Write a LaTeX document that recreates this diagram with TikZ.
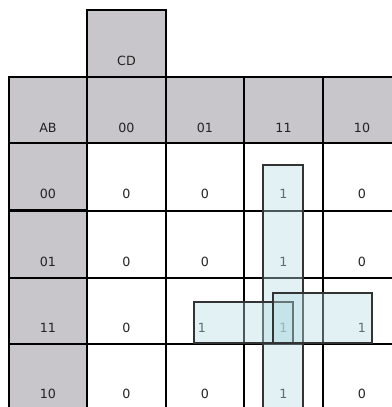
\documentclass[tikz,border=0pt]{standalone}
\usepackage{fontspec}
\setmainfont{DejaVu Sans}
\definecolor{hdr}{RGB}{200,198,202}
\definecolor{grp}{RGB}{180,220,228}
\definecolor{txt}{RGB}{35,35,35}
\tikzset{
  hdrcell/.style={fill=hdr,draw=black,line width=0.8pt},
  cellline/.style={draw=black,line width=1.5pt},
  lbl/.style={font=\fontsize{9.5}{11}\selectfont,text=txt,inner sep=0pt,anchor=center},
  grpbox/.style={fill=grp,fill opacity=0.4,draw=black!80,line width=0.8pt}
}
\begin{document}
\begin{tikzpicture}[x=0.75pt,y=-0.75pt]
\useasboundingbox (0,0) rectangle (392,407);
\clip (0,0) rectangle (392,407);
% header cells
\draw[hdrcell] (87,10) rectangle (166,77);
\draw[hdrcell] (9,77) rectangle (87,143);
\foreach \x in {87,166,244,323} {
  \draw[hdrcell] (\x,77) rectangle ({\x+78.5},143);
}
\foreach \y in {143,211,278,344} {
  \draw[hdrcell] (9,\y) rectangle (87,{\y+67});
}
% white cell lines
\foreach \x in {87,166,244,323} {
  \draw[cellline] (\x,143) -- (\x,415);
}
\foreach \y in {143,211,278,344} {
  \draw[cellline] (9,\y) -- (400,\y);
}
% labels
\node[lbl] (cd) at (126.5,61) {CD};
\node[lbl] (ab) at (48,128) {AB};
\node[lbl] (c00) at (126.5,128) {00};
\node[lbl] (c01) at (205,128) {01};
\node[lbl] (c11) at (283.5,128) {11};
\node[lbl] (c10) at (362,128) {10};
\node[lbl] (r00) at (48,194) {00};
\node[lbl] (r01) at (48,262) {01};
\node[lbl] (r11) at (48,328) {11};
\node[lbl] (r10) at (48,394) {10};
% values
\node[lbl] (v00a) at (126.5,194) {0};
\node[lbl] (v00b) at (205,194) {0};
\node[lbl] (v00c) at (283.5,194) {1};
\node[lbl] (v00d) at (362,194) {0};
\node[lbl] (v01a) at (126.5,262) {0};
\node[lbl] (v01b) at (205,262) {0};
\node[lbl] (v01c) at (283.5,262) {1};
\node[lbl] (v01d) at (362,262) {0};
\node[lbl] (v11a) at (126.5,328) {0};
\node[lbl] (v11b) at (202,328) {1};
\node[lbl] (v11c) at (283.5,328) {1};
\node[lbl] (v11d) at (362,328) {1};
\node[lbl] (v10a) at (126.5,394) {0};
\node[lbl] (v10b) at (205,394) {0};
\node[lbl] (v10c) at (283.5,394) {1};
\node[lbl] (v10d) at (362,394) {0};
% groups
\draw[grpbox] (263,165) rectangle (303,415);
\draw[grpbox] (194,302) rectangle (293,343);
\draw[grpbox] (273,293) rectangle (372,343);
\end{tikzpicture}
\end{document}
